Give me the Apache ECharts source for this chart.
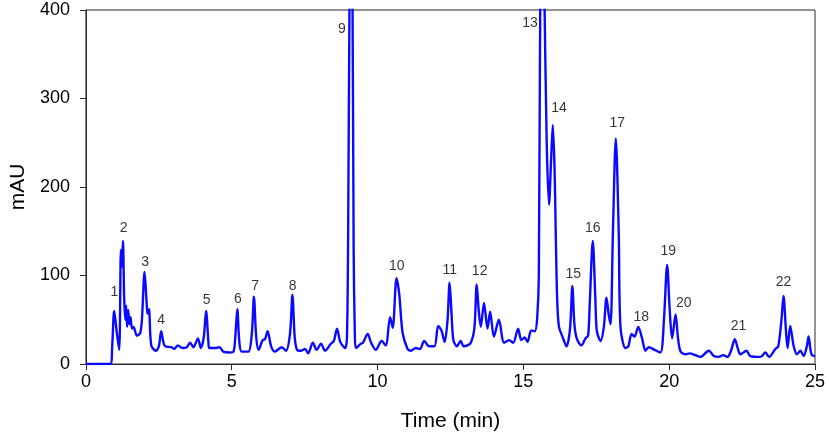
<!DOCTYPE html>
<html>
<head>
<meta charset="utf-8">
<script src="https://cdn.jsdelivr.net/npm/echarts@6/dist/echarts.min.js"></script>
<style>
html,body{margin:0;padding:0;background:#fff;}
#chart{width:829px;height:442px;}
</style>
</head>
<body>
<div id="chart"></div>
<script>
// Retention times (min) and absorbance (mAU)
var times = [0,0.84,0.9,0.97,1.06,1.14,1.2,1.23,1.27,1.31,1.35,1.38,1.41,1.45,1.49,1.53,1.58,1.63,1.75,1.86,1.92,2.01,2.08,2.11,2.16,2.24,2.40,2.50,2.58,2.66,2.72,2.92,3.03,3.15,3.31,3.46,3.57,3.69,3.84,3.94,4.04,4.12,4.2,4.23,4.43,4.58,4.71,4.91,5.06,5.13,5.19,5.26,5.34,5.57,5.69,5.76,5.84,5.92,6.06,6.14,6.23,6.35,6.48,6.71,6.86,7.0,7.08,7.16,7.24,7.38,7.51,7.62,7.78,7.91,8.06,8.20,8.40,8.50,8.61,8.72,8.89,8.95,8.99,9.04,9.09,9.14,9.18,9.22,9.26,9.43,9.5,9.66,9.78,9.94,10.14,10.28,10.43,10.52,10.65,10.74,10.86,11.03,11.14,11.31,11.45,11.60,11.77,11.95,12.08,12.19,12.30,12.40,12.47,12.54,12.60,12.72,12.85,12.95,13.08,13.2,13.32,13.40,13.47,13.54,13.65,13.77,13.86,13.99,14.16,14.34,14.51,14.65,14.82,14.93,15.04,15.14,15.27,15.39,15.47,15.53,15.58,15.65,15.72,15.8,15.88,15.95,16.01,16.07,16.11,16.16,16.22,16.34,16.48,16.6,16.68,16.75,16.83,16.99,17.13,17.22,17.28,17.38,17.47,17.52,17.65,17.76,17.85,17.93,17.99,18.07,18.17,18.27,18.33,18.50,18.60,18.71,18.81,18.94,19.07,19.19,19.30,19.5,19.70,19.82,19.93,20.02,20.10,20.22,20.30,20.39,20.56,20.7,20.90,21.07,21.36,21.53,21.7,21.85,22.0,22.12,22.25,22.35,22.44,22.65,22.78,23.13,23.30,23.42,23.64,23.74,23.85,23.92,24.0,24.06,24.15,24.22,24.27,24.38,24.50,24.61,24.72,24.78,24.85,24.90,25.0];
var mau = [0,0,20,60,35,16,129,110,139,76,50,66,42,61,45,53,40,42,32,35,50,104,70,57,62,21,15,20,37,24,20,19,17,21,18,19,24,19,29,18,30,60,25,18,18,19,14,13,14,35,62,25,14,14,35,76,30,16,27,28,37,20,14,19,15,35,78,30,16,15,17,12,24,16,23,15,23,26,40,25,18,30,140,420,520,420,130,35,18,23,24,34,24,16,26,21,53,41,97,80,35,17,15,18,17,26,20,20,43,38,25,50,92,55,27,20,26,20,21,24,40,90,60,42,69,40,59,31,50,24,27,24,40,27,30,25,38,37,50,100,420,550,420,250,180,230,270,220,148,72,42,31,20,40,88,45,29,21,29,32,72,139,72,37,26,42,75,55,45,148,255,148,42,18,20,34,31,42,29,15,19,16,13,50,112,60,29,56,30,14,11,12,10,8,15,9,8,10,8,15,28,18,11,15,9,8,13,8,17,20,50,77,40,18,43,30,20,11,15,9,20,31,15,10,9];

// Peak numbers and where their labels sit
var peakNames = ['1','2','3','4','5','6','7','8','9','10','11','12','13','14','15','16','17','18','19','20','21','22'];
var peakLabelTimes = [0.98,1.29,2.03,2.58,4.14,5.21,5.80,7.09,8.78,10.66,12.48,13.50,15.23,16.22,16.71,17.38,18.22,19.04,19.97,20.50,22.38,23.92];
var peakLabelValues = [81,154,115,50,72,73,88,88,378,111,106,105,385,289,101,154,272,53,127,69,43,92];

var xTicks = [0,5,10,15,20,25];
var yTicks = [0,100,200,300,400];

var lineData = times.map(function(t,i){return [t, mau[i]];});
var labelData = peakNames.map(function(n,i){return {name:n, value:[peakLabelTimes[i], peakLabelValues[i]]};});

var chart = echarts.init(document.getElementById('chart'), null, {renderer:'canvas'});
var axisCol = '#2a2a2a';
chart.setOption({
  animation:false,
  backgroundColor:'#ffffff',
  grid:{left:84, right:14, top:10, bottom:78, show:true, borderColor:axisCol, borderWidth:1, backgroundColor:'transparent'},
  xAxis:{
    type:'value', min:xTicks[0], max:xTicks[xTicks.length-1], interval:5,
    name:'Time (min)', nameLocation:'middle', nameGap:47,
    nameTextStyle:{fontFamily:'Liberation Sans', fontSize:21, color:'#000'},
    axisLine:{show:true, lineStyle:{color:axisCol, width:1}},
    axisTick:{show:true, length:6, lineStyle:{color:axisCol}},
    axisLabel:{fontFamily:'Liberation Sans', fontSize:18, color:'#000', margin:9},
    splitLine:{show:false}
  },
  yAxis:{
    type:'value', min:yTicks[0], max:yTicks[yTicks.length-1], interval:100,
    name:'mAU', nameLocation:'middle', nameGap:54,
    nameTextStyle:{fontFamily:'Liberation Sans', fontSize:21, color:'#000'},
    axisLine:{show:true, lineStyle:{color:axisCol, width:1}},
    axisTick:{show:true, length:6, lineStyle:{color:axisCol}},
    axisLabel:{fontFamily:'Liberation Sans', fontSize:18, color:'#000', margin:16},
    splitLine:{show:false}
  },
  series:[
    {
      type:'line', data:lineData, showSymbol:false, smooth:0.3, clip:true,
      lineStyle:{color:'#0a0aff', width:2.4}, z:2
    },
    {
      type:'scatter', data:labelData, symbolSize:0, z:3,
      label:{show:true, position:'inside', formatter:'{b}', fontFamily:'Liberation Sans', fontSize:14, color:'#000'}
    }
  ]
});
</script>
</body>
</html>
